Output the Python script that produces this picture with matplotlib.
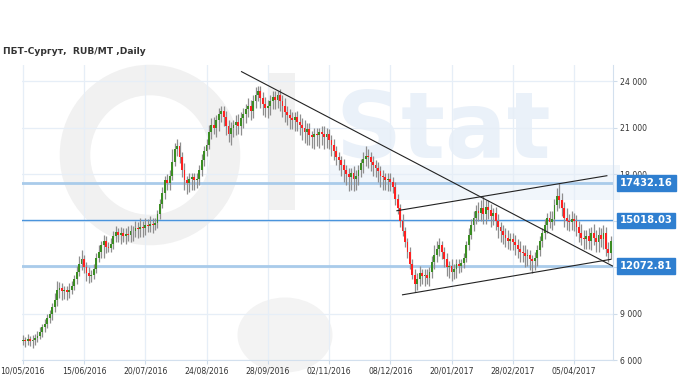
import numpy as np
import matplotlib
matplotlib.use("Agg")
import matplotlib.pyplot as plt
from matplotlib.patches import Ellipse, Rectangle

# daily closes, RUB/MT (one per trading day)
closes = [
    7300, 7250, 7350, 7200, 7300, 7450, 7550, 7800, 8100, 8350,
    8700, 9000, 9400, 9900, 10500, 10650, 10450, 10500, 10400, 10550,
    10800, 11200, 11700, 12200, 12500, 12000, 11600, 11450, 11500, 11900,
    12600, 13000, 13400, 13700, 13300, 13250, 13500, 14000, 14250, 14100,
    14200, 14000, 14150, 14100, 14300, 14350, 14500, 14450, 14600, 14550,
    14700, 14650, 14800, 14700, 14850, 15400, 16100, 16800, 17600, 17400,
    17900, 18800, 19600, 19800, 19100, 18300, 17600, 17450, 17700, 17800,
    17600, 17700, 18300, 18900, 19500, 19900, 20700, 21200, 21000, 21500,
    21900, 22100, 21700, 21100, 20600, 21000, 21200, 21400, 21100, 21600,
    21900, 22200, 22400, 22100, 22700, 23100, 23400, 22900, 22500, 22300,
    22400, 22700, 23000, 22800, 23100, 22700, 22400, 22000, 21800, 21600,
    21500, 21700, 21400, 21200, 21000, 20700, 20900, 20500, 20400, 20600,
    20500, 20700, 20600, 20400, 20600, 20200, 19900, 19500, 19100, 18900,
    18600, 18300, 18000, 17800, 18100, 17700, 17900, 18300, 18700, 19000,
    19200, 19100, 18800, 18600, 18400, 18200, 17900, 17800, 17600, 17700,
    17500, 17200, 16400, 15800, 15000, 14300, 13600, 13000, 12200, 11500,
    10900, 11200, 11600, 11400, 11500, 11300, 11700, 12300, 12800, 13200,
    13400, 13000, 12500, 12000, 12100, 11700, 11900, 12200, 12100, 12250,
    12600, 13400, 14100, 14700, 15200, 15600, 15500, 15800, 15400, 15900,
    15700, 15300, 15500, 15000, 14600, 14300, 14100, 13900, 13700, 13800,
    13600, 13400, 13200, 13000, 12900, 12700, 12800, 12500, 12400, 12600,
    13100, 13700, 14200, 14700, 15200, 14900, 15100, 16000, 16600, 16300,
    15800, 15200, 15000, 14900, 15100, 14950, 14600, 14200, 13900, 13800,
    14000, 13700, 14200, 13900, 13600, 14100, 13800, 14200, 13200, 12900, 13700,
]
first_open = 7250

# wick lengths above / below the body, hundreds of RUB
wick_up = [
    3, 2, 3, 2, 3, 2, 3, 3, 2, 3,  3, 2, 3, 4, 6, 4, 3, 3, 3, 4,
    3, 3, 4, 5, 6, 3, 3, 4, 3, 3,  3, 4, 3, 4, 3, 3, 4, 3, 4, 3,
    4, 3, 4, 5, 4, 3, 5, 4, 6, 4,  5, 4, 5, 4, 3, 3, 3, 4, 3, 4,
    4, 8, 4, 5, 3, 3, 4, 3, 4, 3,  3, 4, 3, 4, 3, 4, 5, 4, 5, 3,
    4, 3, 3, 4, 4, 4, 3, 4, 5, 4,  4, 3, 5, 4, 4, 5, 3, 3, 4, 5,
    4, 4, 4, 4, 3, 4, 4, 5, 4, 4,  4, 3, 4, 5, 4, 5, 4, 4, 3, 4,
    4, 3, 4, 5, 4, 3, 3, 4, 3, 3,  3, 4, 3, 4, 3, 4, 4, 3, 3, 4,
    6, 4, 3, 4, 3, 4, 3, 4, 3, 4,  4, 3, 3, 3, 3, 4, 3, 3, 3, 3,
    4, 4, 5, 3, 4, 4, 3, 4, 6, 5,  5, 3, 3, 4, 3, 4, 3, 3, 3, 3,
    3, 3, 4, 4, 4, 4, 6, 5, 8, 4,  4, 4, 3, 4, 4, 3, 4, 4, 5, 4,
    4, 5, 4, 5, 4, 5, 4, 3, 3, 4,  3, 3, 3, 4, 3, 4, 5, 4, 5, 8,
    5, 4, 6, 4, 5, 4, 4, 4, 6, 5,  4, 5, 4, 6, 5, 5, 4, 5, 4, 4, 3,
]
wick_dn = [
    3, 4, 3, 3, 4, 3, 3, 2, 3, 3,  3, 3, 4, 3, 4, 5, 6, 5, 5, 4,
    3, 3, 3, 3, 4, 4, 5, 5, 4, 3,  3, 3, 4, 8, 4, 3, 3, 3, 4, 5,
    6, 4, 5, 4, 5, 6, 4, 6, 5, 6,  5, 4, 4, 5, 3, 3, 3, 3, 4, 4,
    4, 3, 3, 4, 4, 5, 6, 7, 6, 7,  6, 5, 4, 4, 4, 3, 3, 4, 4, 6,
    7, 5, 6, 6, 5, 7, 6, 7, 5, 6,  6, 6, 5, 6, 5, 4, 4, 6, 7, 6,
    7, 6, 5, 6, 5, 6, 7, 6, 6, 7,  6, 7, 6, 7, 8, 7, 8, 6, 7, 8,
    7, 8, 7, 8, 7, 6, 7, 6, 5, 6,  7, 8, 7, 9, 8, 8, 7, 6, 5, 6,
    5, 7, 6, 7, 6, 7, 7, 8, 6, 7,  6, 4, 4, 4, 4, 3, 3, 4, 3, 3,
    5, 4, 4, 5, 6, 4, 5, 4, 4, 5,  5, 5, 5, 6, 7, 6, 5, 6, 5, 4,
    3, 3, 3, 3, 4, 4, 5, 5, 6, 6,  6, 7, 6, 6, 7, 7, 6, 6, 5, 6,
    5, 6, 6, 7, 6, 7, 6, 7, 8, 6,  5, 4, 4, 4, 5, 4, 5, 4, 4, 5,
    5, 6, 6, 6, 5, 6, 6, 6, 5, 6,  6, 5, 6, 5, 6, 6, 5, 6, 5, 6, 4,
]

date_labels = ["10/05/2016", "15/06/2016", "20/07/2016", "24/08/2016", "28/09/2016",
               "02/11/2016", "08/12/2016", "20/01/2017", "28/02/2017", "05/04/2017"]
date_pos = [0, 25, 50, 75, 100, 125, 150, 175, 200, 225]

levels = [17432.16, 15018.03, 12072.81]
level_styles = [("#a9cbea", 2.0), ("#4a94dc", 1.0), ("#a9cbea", 2.0)]

# analyst trend lines: (bar, price) end points
trend_down = [(89.3, 24620), (240.7, 12070)]
channel_top = [(152.7, 15640), (238.4, 17900)]
channel_bot = [(155.0, 10210), (240.0, 12500)]

title = "ПБТ-Сургут,  RUB/MT ,Daily"

fig = plt.figure(figsize=(6.8, 3.81), dpi=100)
W, H = 680, 381


def px(x, y):
    return x / W, 1 - y / H


# faint watermark behind the chart
wm_grey = "#f1f1f1"
fig.patches.append(Ellipse(px(150, 155), 150 / W, 150 / H, fill=False, ec=wm_grey,
                           lw=22, transform=fig.transFigure, zorder=-1))
fig.patches.append(Rectangle(px(268, 210), 27 / W, 137 / H, fc=wm_grey, ec="none",
                             transform=fig.transFigure, zorder=-1))
fig.patches.append(Ellipse(px(285, 335), 95 / W, 75 / H, fc="#f3f3f3", ec="none",
                           transform=fig.transFigure, zorder=-1))
fig.patches.append(Rectangle(px(330, 200), 290 / W, 35 / H, fc="#f1f6fb", ec="none",
                             transform=fig.transFigure, zorder=-1))
fig.text(*px(335, 158), "Stat", fontsize=66, fontweight="bold", color="#eaf1f9",
         ha="left", va="baseline", zorder=-1)

ax = fig.add_axes([22 / W, 21 / H, 591 / W, 295 / H])
ax.set_facecolor("none")

opens = [first_open] + closes[:-1]
green, red, wick_col = "#3a8c22", "#ff2020", "#8e8e8e"
for i, (o, c, u, d) in enumerate(zip(opens, closes, wick_up, wick_dn)):
    hi = max(o, c) + u * 100
    lo = min(o, c) - d * 100
    ax.vlines(i, lo, hi, color=wick_col, lw=0.9, zorder=3)
    col = green if c >= o else red
    body = abs(c - o) if abs(c - o) > 60 else 60
    ax.bar(i, body, bottom=min(o, c), width=0.75, color=col, lw=0, zorder=4)

for lvl, (col, lw) in zip(levels, level_styles):
    ax.axhline(lvl, color=col, lw=lw, zorder=2)
    ax.annotate(f"{lvl:.2f}", xy=(1.0, lvl), xycoords=("axes fraction", "data"),
                xytext=(5, 0), textcoords="offset points", ha="left", va="center",
                fontsize=7.2, fontweight="bold", color="white", zorder=10,
                bbox=dict(boxstyle="square,pad=0.28", fc="#2f7fd0", ec="#2f7fd0"),
                annotation_clip=False)

for line in (trend_down, channel_top, channel_bot):
    xs, ys = zip(*line)
    ax.plot(xs, ys, color="#222222", lw=0.8, zorder=5)

ax.set_xlim(-0.3, 240.9)
ax.set_ylim(6000, 25050)
ax.set_xticks(date_pos)
ax.set_xticklabels(date_labels)
yt = np.arange(6000, 24001, 3000)
ax.set_yticks(yt)
ax.set_yticklabels([f"{v // 1000} 000" for v in yt])
ax.yaxis.tick_right()
ax.tick_params(axis="both", labelsize=5.6, colors="#cfdcea", labelcolor="#333333",
               length=3, pad=2)
ax.grid(True, color="#e6eef7", lw=0.9, zorder=0)
for side in ("top", "left"):
    ax.spines[side].set_visible(False)
for side in ("bottom", "right"):
    ax.spines[side].set_color("#d3e0ee")

fig.text(3 / W, 1 - 52 / H, title, fontsize=6.6, fontweight="bold", color="#333333",
         ha="left", va="center")

fig.savefig("out.png", dpi=100)
